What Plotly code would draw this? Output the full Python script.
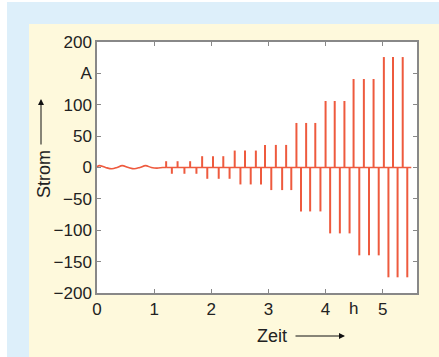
import plotly.graph_objects as go

# ---- data ----
wave_t = [0.0, 0.04, 0.15, 0.26, 0.35, 0.44, 0.55, 0.65, 0.75, 0.85, 0.95, 1.05, 1.15, 1.21]
wave_i = [1, 3, 0, -2, 0, 3, 0, -2, 0, 3, 0, -1, 0, 0]

base_t = [1.21, 5.5]
base_i = [0, 0]

pos_t = [1.21, 1.41, 1.63, 1.84, 2.03, 2.21, 2.41, 2.59, 2.78, 2.94, 3.13, 3.31,
         3.49, 3.66, 3.82, 4.00, 4.16, 4.33, 4.49, 4.67, 4.84, 5.02, 5.18, 5.35]
pos_i = [10, 10, 10, 18, 18, 18, 27, 27, 27, 36, 36, 36,
         71, 71, 71, 106, 106, 106, 141, 141, 141, 176, 176, 176]
neg_t = [1.31, 1.53, 1.74, 1.93, 2.13, 2.32, 2.51, 2.69, 2.87, 3.05, 3.24, 3.40,
         3.57, 3.73, 3.91, 4.08, 4.25, 4.42, 4.59, 4.76, 4.93, 5.10, 5.26, 5.43]
neg_i = [-10, -10, -10, -18, -18, -18, -27, -27, -27, -36, -36, -36,
         -70, -70, -70, -105, -105, -105, -140, -140, -140, -175, -175, -175]

x_tickvals = [0, 1, 2, 3, 4, 5]
x_ticktext = ["0", "1", "2", "3", "4", "5"]
y_tickvals = [-200, -150, -100, -50, 0, 50, 100, 150, 200]
y_ticktext = ["\u2212200", "\u2212150", "\u2212100", "\u221250", "0", "50", "100", "A", "200"]

RED = "#ee5a3e"
FONT = "Liberation Sans, Arial, sans-serif"
TXT = "#222222"

def spikes(ts, vals):
    xs, ys = [], []
    for t, v in zip(ts, vals):
        xs += [t, t, None]
        ys += [0, v, None]
    return xs, ys

fig = go.Figure()
fig.add_trace(go.Scatter(x=wave_t, y=wave_i, mode="lines",
                         line=dict(color=RED, width=1.6, shape="spline"), hoverinfo="skip"))
fig.add_trace(go.Scatter(x=base_t, y=base_i, mode="lines",
                         line=dict(color=RED, width=1.6), hoverinfo="skip"))
px_, py_ = spikes(pos_t, pos_i)
fig.add_trace(go.Scatter(x=px_, y=py_, mode="lines",
                         line=dict(color=RED, width=2), hoverinfo="skip"))
nx_, ny_ = spikes(neg_t, neg_i)
fig.add_trace(go.Scatter(x=nx_, y=ny_, mode="lines",
                         line=dict(color=RED, width=2), hoverinfo="skip"))

W, H = 439, 357
L, R, T, B = 97, 22, 42, 64
pw, ph = W - L - R, H - T - B

def px2x(p):
    return (p - L) / pw

def py2y(p):
    return (H - B - p) / ph

shapes = [
    dict(type="rect", xref="paper", yref="paper", layer="below",
         x0=px2x(29), x1=px2x(445), y0=py2y(362), y1=py2y(24),
         fillcolor="#fef9dc", line=dict(width=0)),
    dict(type="rect", xref="paper", yref="paper", layer="below",
         x0=px2x(-5), x1=px2x(7), y0=py2y(362), y1=py2y(-5),
         fillcolor="#ffffff", line=dict(width=0)),
    dict(type="rect", xref="paper", yref="paper", layer="below",
         x0=px2x(-5), x1=px2x(445), y0=py2y(2), y1=py2y(-5),
         fillcolor="#ffffff", line=dict(width=0)),
    dict(type="rect", xref="paper", yref="paper", layer="below",
         x0=0, x1=1, y0=0, y1=1, fillcolor="#ffffff", line=dict(width=0)),
]

annotations = [
    dict(text="h", xref="x", yref="paper", x=4.49, y=py2y(308), showarrow=False,
         font=dict(family=FONT, size=17, color=TXT), xanchor="center", yanchor="middle"),
    dict(text="Zeit", xref="paper", yref="paper", x=px2x(272), y=py2y(336), showarrow=False,
         font=dict(family=FONT, size=18, color=TXT), xanchor="center", yanchor="middle"),
    dict(text="", xref="paper", yref="paper", x=px2x(345), y=py2y(336),
         ax=-51, ay=0, showarrow=True, arrowhead=2, arrowsize=1.2, arrowwidth=1,
         arrowcolor="#111111"),
    dict(text="Strom", xref="paper", yref="paper", x=px2x(44), y=py2y(174), showarrow=False,
         textangle=-90, font=dict(family=FONT, size=18, color=TXT),
         xanchor="center", yanchor="middle"),
    dict(text="", xref="paper", yref="paper", x=px2x(41), y=py2y(99),
         ax=0, ay=47, showarrow=True, arrowhead=2, arrowsize=1.2, arrowwidth=1,
         arrowcolor="#111111"),
]

fig.update_layout(
    width=W, height=H, autosize=False,
    margin=dict(l=L, r=R, t=T, b=B, pad=0),
    paper_bgcolor="#ddeffa", plot_bgcolor="#ffffff",
    showlegend=False, shapes=shapes, annotations=annotations,
    font=dict(family=FONT, size=17, color=TXT),
)
fig.update_xaxes(range=[0, 5.6], tickvals=x_tickvals, ticktext=x_ticktext,
                 ticks="inside", ticklen=4, tickcolor="#888888", showgrid=False,
                 zeroline=False, showline=True, linecolor="#888888", linewidth=1.5,
                 mirror="allticks", tickfont=dict(family=FONT, size=17, color=TXT))
fig.update_yaxes(range=[-200, 200], tickvals=y_tickvals, ticktext=y_ticktext,
                 ticks="inside", ticklen=4, tickcolor="#888888", showgrid=False,
                 zeroline=False, showline=True, linecolor="#888888", linewidth=1.5,
                 mirror="allticks", tickfont=dict(family=FONT, size=17, color=TXT))

fig.write_html("out.html", config={"displayModeBar": False},
               post_script="document.body.style.margin='0';document.body.style.overflow='hidden';")
